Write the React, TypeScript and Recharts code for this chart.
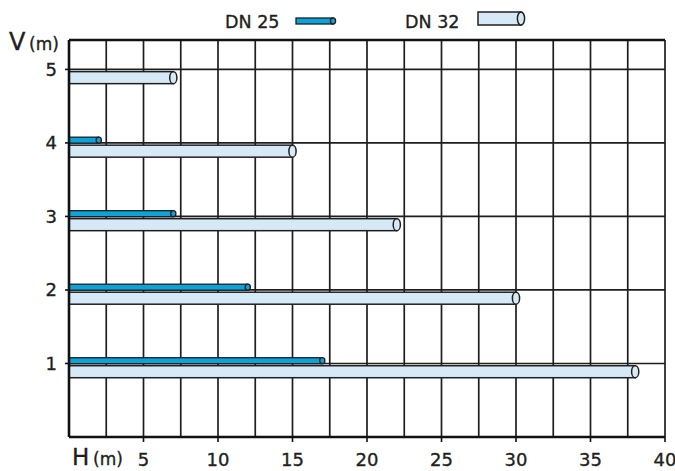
import React from "react";
import {
  BarChart,
  Bar,
  XAxis,
  YAxis,
  CartesianGrid,
  ReferenceLine,
} from "recharts";

// V (m) levels, top to bottom
const levels = [5, 4, 3, 2, 1];
// horizontal reach H (m) for each pipe size
const dn25 = [null, 2, 7, 12, 17];
const dn32 = [7, 15, 22, 30, 38];

const xTicks = [5, 10, 15, 20, 25, 30, 35, 40];
const xGrid = [2.5, 5, 7.5, 10, 12.5, 15, 17.5, 20, 22.5, 25, 27.5, 30, 32.5, 35, 37.5, 40];
const yTicks = [1, 2, 3, 4, 5];

const legendNames = ["DN 25", "DN 32"];

const data = levels.map((v, i) => ({ v, dn25: dn25[i], dn32: dn32[i] }));

const FONT = "'DejaVu Sans', sans-serif";
const INK = "#231f20";
const DARK_BLUE = "#0aa3da";
const LIGHT_BLUE = "#d5e9f7";

const tickStyle = { fill: INK, stroke: INK, strokeWidth: 0.35, fontSize: 18, fontFamily: FONT };

// thin tube, sits just above the grid line
function SmallTube(props: any) {
  const { x, y, width, height, value } = props;
  if (value == null || !width) return null;
  const yy = y + 4;
  return (
    <g>
      <rect x={x} y={yy} width={width} height={height} fill={DARK_BLUE} stroke={INK} strokeWidth={1.3} />
      <ellipse cx={x + width} cy={yy + height / 2} rx={2.6} ry={height / 2} fill={DARK_BLUE} stroke={INK} strokeWidth={1.3} />
    </g>
  );
}

// wide tube, just below the grid line
function BigTube(props: any) {
  const { x, y, width, height, value } = props;
  if (value == null || !width) return null;
  const yy = y + 4;
  return (
    <g>
      <rect x={x} y={yy} width={width} height={height} fill={LIGHT_BLUE} stroke={INK} strokeWidth={1.5} />
      <ellipse cx={x + width} cy={yy + height / 2} rx={3.6} ry={height / 2} fill={LIGHT_BLUE} stroke={INK} strokeWidth={1.5} />
    </g>
  );
}

function Overlay() {
  return (
    <svg
      width={675}
      height={471}
      style={{ position: "absolute", left: 0, top: 0, pointerEvents: "none" }}
    >
      <g fontFamily={FONT} fill={INK} stroke={INK} strokeWidth={0.35}>
        <text x={9} y={50} fontSize={24}>V</text>
        <text x={29} y={50} fontSize={17}>(m)</text>
        <text x={72} y={465} fontSize={23}>H</text>
        <text x={93} y={465} fontSize={17}>(m)</text>

        <text x={225} y={28} fontSize={17.5}>{legendNames[0]}</text>
        <text x={405} y={28} fontSize={17.5}>{legendNames[1]}</text>
      </g>
      <rect x={296} y={18} width={37} height={6} fill={DARK_BLUE} stroke={INK} strokeWidth={1.3} />
      <ellipse cx={333} cy={21} rx={2.6} ry={3} fill={DARK_BLUE} stroke={INK} strokeWidth={1.3} />
      <rect x={478} y={12} width={43} height={13} fill={LIGHT_BLUE} stroke={INK} strokeWidth={1.5} />
      <ellipse cx={521} cy={18.5} rx={3.6} ry={6.5} fill={LIGHT_BLUE} stroke={INK} strokeWidth={1.5} />
    </svg>
  );
}

export default function App() {
  return (
    <div style={{ position: "absolute", left: 0, top: 0, width: 675, height: 471, background: "#fff" }}>
      <BarChart
        width={675}
        height={471}
        data={data}
        layout="vertical"
        margin={{ top: 40, right: 10, bottom: 0, left: 0 }}
        barGap={2}
      >
        <CartesianGrid
          verticalValues={xGrid}
          horizontalValues={yTicks}
          stroke="#1e1e1e"
          strokeWidth={1.7}
        />
        <ReferenceLine y={5.4} stroke="#111" strokeWidth={2.6} />
        <XAxis
          type="number"
          domain={[0, 40]}
          ticks={xTicks}
          interval={0}
          height={34}
          axisLine={{ stroke: "#111", strokeWidth: 2.6 }}
          tickLine={{ stroke: "#111", strokeWidth: 1.6 }}
          tickSize={5}
          tickMargin={11}
          tick={tickStyle}
          allowDataOverflow
        />
        <YAxis
          type="number"
          dataKey="v"
          domain={[0, 5.4]}
          ticks={yTicks}
          interval={0}
          width={69}
          reversed
          axisLine={{ stroke: "#111", strokeWidth: 2.6 }}
          tickLine={{ stroke: "#111", strokeWidth: 1.6 }}
          tickSize={4}
          tickMargin={8}
          tick={tickStyle}
          allowDataOverflow
        />
        <Bar dataKey="dn25" barSize={6} shape={<SmallTube />} isAnimationActive={false} />
        <Bar dataKey="dn32" barSize={12} shape={<BigTube />} isAnimationActive={false} />
      </BarChart>
      <Overlay />
    </div>
  );
}
